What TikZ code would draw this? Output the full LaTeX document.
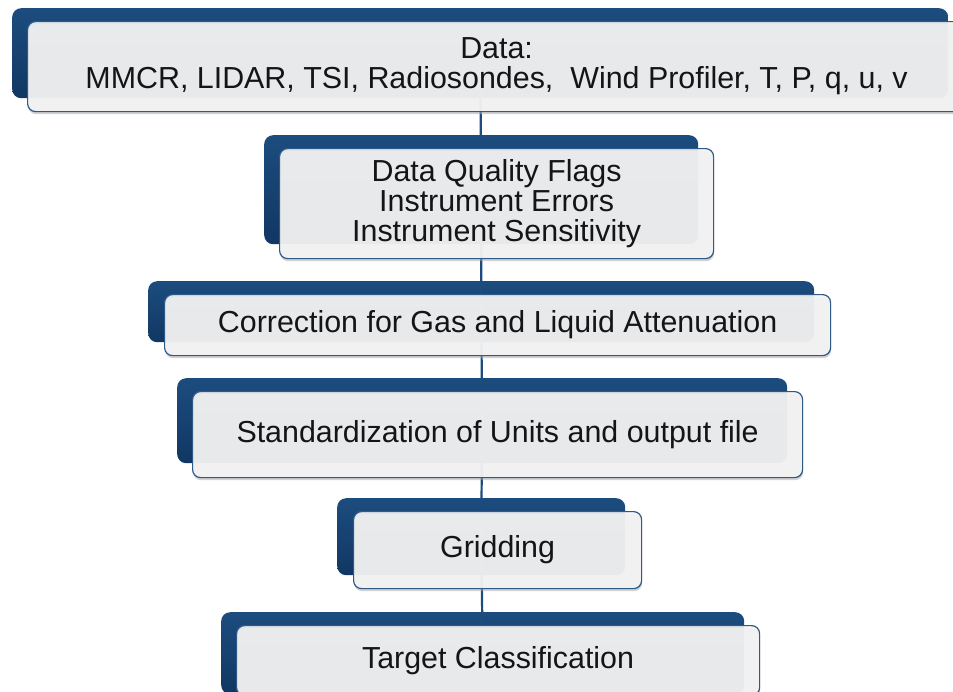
\documentclass[tikz,border=0pt]{standalone}
\usepackage{fontspec}
\setmainfont{Liberation Sans}
\definecolor{navytop}{HTML}{1C4C7E}
\definecolor{navybot}{HTML}{113763}
\definecolor{panel}{HTML}{F4F4F4}
\definecolor{rim}{HTML}{2E5A88}
\definecolor{ink}{HTML}{151515}
\begin{document}
\begin{tikzpicture}[x=1pt,y=-1pt,
  backbox/.style={rectangle, rounded corners=9pt, anchor=north west, inner sep=0pt,
    top color=navytop, bottom color=navybot, draw=none},
  frontbox/.style={rectangle, rounded corners=8pt, anchor=north west, inner sep=0pt,
    fill=panel, fill opacity=0.92, text opacity=1, draw=rim, line width=1.2pt,
    text=ink, font=\fontsize{30.4}{30}\selectfont, align=center},
  dropshade/.style={rectangle, rounded corners=8pt, anchor=north west, inner sep=0pt,
    fill=black!35, fill opacity=0.5, draw=none},
  link/.style={draw=navytop, line width=2.2pt}]
\useasboundingbox (0,0) rectangle (953,691);
\fill[white] (0,0) rectangle (953,691);

% back (blue) boxes: name, corner, width, height
\foreach \n/\x/\y/\w/\h in {b1/12/8/936/90, b2/264/135/434/109, b3/148/281/666/61,
                             b4/177/378/610/85, b5/337/498/288/77, b6/221/612/523/82}
  \node[backbox, minimum width=\w pt, minimum height=\h pt] (\n) at (\x,\y) {};

% vertical connector running behind the boxes
\draw[link] (b1.center) -- (b2.center) -- (b3.center) -- (b4.center) -- (b5.center) -- (b6.center);

% soft shadows under the front panels
\foreach \x/\y/\w/\h in {27/21/938/90, 279/148/434/110, 164/294/666/61,
                         192/391/610/86, 353/511/288/77, 236/625/523/70}
  \node[dropshade, minimum width=\w pt, minimum height=\h pt] at (\x+1,\y+3) {};

% front panels with the step texts
\node[frontbox, minimum width=938pt, minimum height=90pt] (f1) at (27,21)
  {Data:\\MMCR, LIDAR, TSI, Radiosondes, \ Wind Profiler, T, P, q, u, v};
\node[frontbox, minimum width=434pt, minimum height=110pt] (f2) at (279,148)
  {Data Quality Flags\\Instrument Errors\\Instrument Sensitivity};
\node[frontbox, minimum width=666pt, minimum height=61pt] (f3) at (164,294)
  {Correction for Gas and Liquid Attenuation};
\node[frontbox, minimum width=610pt, minimum height=86pt] (f4) at (192,391)
  {Standardization of Units and output file};
\node[frontbox, minimum width=288pt, minimum height=77pt] (f5) at (353,511)
  {Gridding};
\node[frontbox, minimum width=523pt, minimum height=70pt] (f6) at (236,625)
  {Target Classification};
\end{tikzpicture}
\end{document}
